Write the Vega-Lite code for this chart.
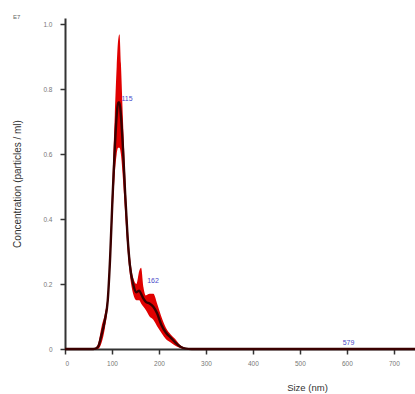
{
  "$schema": "https://vega.github.io/schema/vega-lite/v6.json",
  "width": 350,
  "height": 331,
  "autosize": {"type": "none"},
  "padding": {"left": 65, "top": 18, "right": 0, "bottom": 45},
  "background": "white",
  "title": {"text": "E7", "anchor": "start", "frame": "group", "fontSize": 6, "fontWeight": "normal", "color": "#666", "dx": -52, "dy": 2, "offset": 0, "font": "Liberation Sans"},
  "config": {"view": {"stroke": null}, "font": "Liberation Sans"},
  "datasets": {
    "curve": [
      {"size": 0, "mean": 0, "lo": 0, "hi": 0},
      {"size": 60, "mean": 0, "lo": 0, "hi": 0},
      {"size": 70, "mean": 0.006, "lo": 0, "hi": 0.014},
      {"size": 78, "mean": 0.045, "lo": 0.02, "hi": 0.07},
      {"size": 85, "mean": 0.09, "lo": 0.065, "hi": 0.11},
      {"size": 91, "mean": 0.15, "lo": 0.13, "hi": 0.17},
      {"size": 96, "mean": 0.28, "lo": 0.25, "hi": 0.31},
      {"size": 101, "mean": 0.46, "lo": 0.41, "hi": 0.52},
      {"size": 106, "mean": 0.62, "lo": 0.54, "hi": 0.72},
      {"size": 110, "mean": 0.72, "lo": 0.6, "hi": 0.87},
      {"size": 113, "mean": 0.76, "lo": 0.62, "hi": 0.95},
      {"size": 116, "mean": 0.76, "lo": 0.62, "hi": 0.97},
      {"size": 119, "mean": 0.72, "lo": 0.6, "hi": 0.88},
      {"size": 123, "mean": 0.63, "lo": 0.53, "hi": 0.72},
      {"size": 128, "mean": 0.48, "lo": 0.42, "hi": 0.54},
      {"size": 133, "mean": 0.35, "lo": 0.31, "hi": 0.39},
      {"size": 138, "mean": 0.26, "lo": 0.23, "hi": 0.29},
      {"size": 145, "mean": 0.2, "lo": 0.17, "hi": 0.22},
      {"size": 152, "mean": 0.175, "lo": 0.15, "hi": 0.2},
      {"size": 158, "mean": 0.18, "lo": 0.15, "hi": 0.24},
      {"size": 162, "mean": 0.17, "lo": 0.14, "hi": 0.25},
      {"size": 167, "mean": 0.155, "lo": 0.13, "hi": 0.19},
      {"size": 172, "mean": 0.145, "lo": 0.12, "hi": 0.165},
      {"size": 180, "mean": 0.14, "lo": 0.1, "hi": 0.17},
      {"size": 188, "mean": 0.13, "lo": 0.09, "hi": 0.17},
      {"size": 196, "mean": 0.11, "lo": 0.07, "hi": 0.14},
      {"size": 205, "mean": 0.075, "lo": 0.05, "hi": 0.1},
      {"size": 215, "mean": 0.05, "lo": 0.03, "hi": 0.065},
      {"size": 225, "mean": 0.035, "lo": 0.02, "hi": 0.045},
      {"size": 235, "mean": 0.02, "lo": 0.01, "hi": 0.03},
      {"size": 245, "mean": 0.008, "lo": 0.003, "hi": 0.012},
      {"size": 255, "mean": 0.002, "lo": 0, "hi": 0.004},
      {"size": 270, "mean": 0, "lo": 0, "hi": 0},
      {"size": 745, "mean": 0, "lo": 0, "hi": 0}
    ],
    "labels": [
      {"size": 120, "y": 0.77, "label": "115"},
      {"size": 175, "y": 0.21, "label": "162"},
      {"size": 591, "y": 0.02, "label": "579"}
    ]
  },
  "layer": [
    {
      "data": {"name": "curve"},
      "mark": {"type": "area", "color": "#e00000", "opacity": 1, "interpolate": "monotone"},
      "encoding": {
        "x": {
          "field": "size", "type": "quantitative",
          "scale": {"domain": [0, 745], "nice": false},
          "axis": {
            "values": [0, 100, 200, 300, 400, 500, 600, 700],
            "title": "Size (nm)", "titleFontSize": 9.5, "titleFontWeight": "normal", "titleColor": "#333",
            "titleX": 242, "titleY": 33, "titleAlign": "center",
            "labelFontSize": 6.5, "labelColor": "#777", "labelPadding": 6,
            "grid": false, "domainColor": "#333", "domainWidth": 2, "tickColor": "#333", "tickWidth": 1.5, "tickSize": 5
          }
        },
        "y": {
          "field": "lo", "type": "quantitative",
          "scale": {"domain": [0, 1.02], "nice": false},
          "axis": {
            "values": [0, 0.2, 0.4, 0.6, 0.8, 1.0],
            "labelExpr": "datum.value == 0 ? '0' : format(datum.value, '.1f')",
            "title": "Concentration (particles / ml)", "titleFontSize": 10, "titleFontWeight": "normal", "titleColor": "#333",
            "titlePadding": 20,
            "labelFontSize": 6.5, "labelColor": "#777", "labelPadding": 8,
            "grid": false, "domainColor": "#333", "domainWidth": 2, "tickColor": "#333", "tickWidth": 1.5, "tickSize": 5
          }
        },
        "y2": {"field": "hi"}
      }
    },
    {
      "data": {"name": "curve"},
      "mark": {"type": "line", "color": "#3a0000", "strokeWidth": 2.4, "interpolate": "monotone"},
      "encoding": {
        "x": {"field": "size", "type": "quantitative"},
        "y": {"field": "mean", "type": "quantitative"}
      }
    },
    {
      "data": {"name": "labels"},
      "mark": {"type": "text", "color": "#4a4ac8", "fontSize": 7, "align": "left", "baseline": "middle"},
      "encoding": {
        "x": {"field": "size", "type": "quantitative"},
        "y": {"field": "y", "type": "quantitative"},
        "text": {"field": "label"}
      }
    }
  ]
}
